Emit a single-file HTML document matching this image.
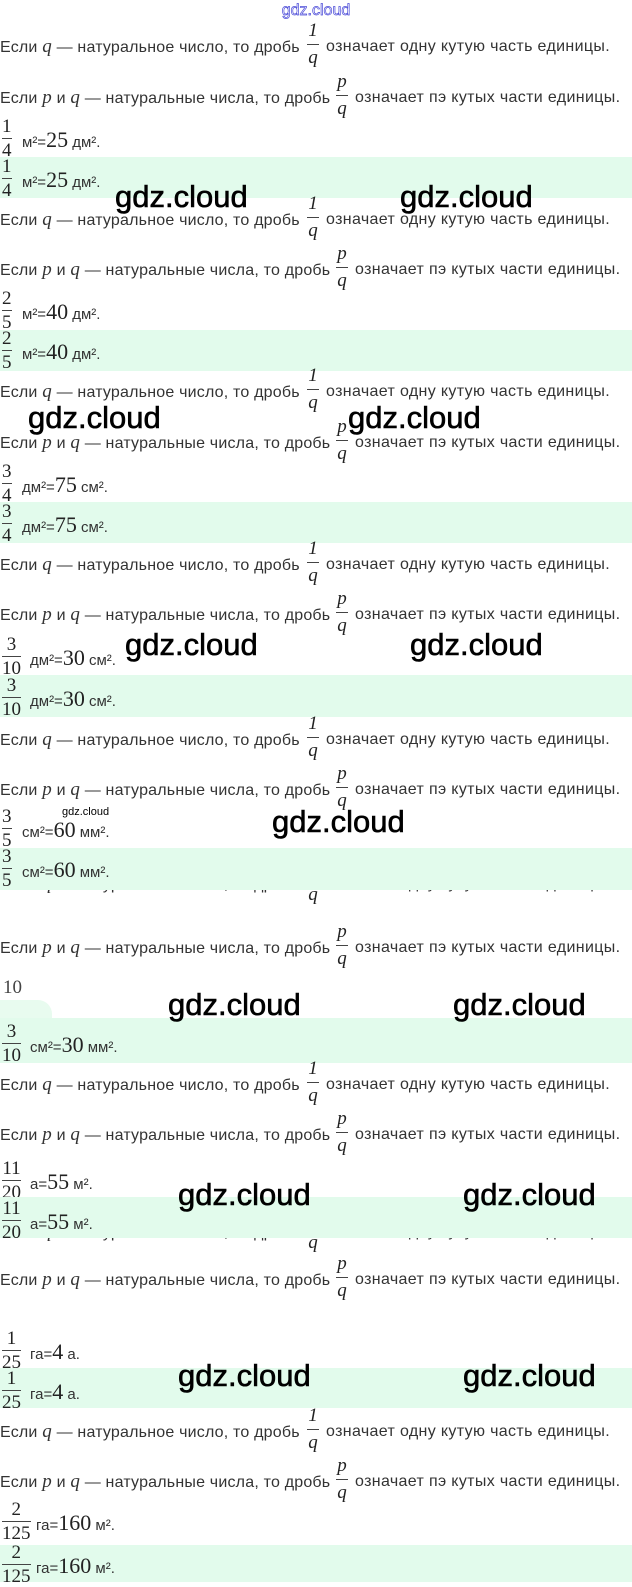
<!DOCTYPE html>
<html><head><meta charset="utf-8">
<style>
*{margin:0;padding:0;box-sizing:border-box}
body{width:632px;height:1582px;position:relative;overflow:hidden;background:#fff;font-family:"Liberation Sans",sans-serif;color:#333}
.band{position:absolute;left:0;width:632px;background:#e2fbec}
.t{position:absolute;left:0;width:632px;height:0;white-space:nowrap;font-size:16px;letter-spacing:0.35px;line-height:18px}
.t span{position:absolute;top:-9px}
.t span.l1,.t span.l2{left:0;letter-spacing:0.2px}
.t em{font-family:"Liberation Serif",serif;font-size:19px}
.fr{position:absolute;display:flex;flex-direction:column;align-items:center;font-family:"Liberation Serif",serif;font-style:italic;font-size:19px;line-height:18px;color:#222;transform:translateX(-50%);letter-spacing:0}
.fr i{display:block;border-top:1px solid #444;width:12px;margin:4px 0}
.a{position:absolute;left:0;height:0;white-space:nowrap}
.af{position:absolute;display:flex;flex-direction:column;align-items:center;font-family:"Liberation Serif",serif;font-size:19px;line-height:17px;color:#222;top:-22px}
.af i{display:block;border-top:1px solid #444;width:100%;margin:3px 0}
.at{position:absolute;top:-10px;font-size:15px;line-height:20px;color:#333}
.at b{font-family:"Liberation Serif",serif;font-weight:normal;font-size:22px;color:#222}
.wm{position:absolute;font-family:"Liberation Sans",sans-serif;font-size:31px;line-height:36px;color:#000;transform:translateY(-50%);-webkit-text-stroke:0.6px #000}
</style></head><body>

<div style="position:absolute;left:0;width:632px;top:2px;text-align:center;font-size:16px;color:#fff;-webkit-text-stroke:0.7px #4b4bd8">gdz.cloud</div>

<div class="band" style="top:157px;height:41px"></div>
<div class="band" style="top:330px;height:41px"></div>
<div class="band" style="top:502px;height:41px"></div>
<div class="band" style="top:675px;height:42px"></div>
<div class="band" style="top:848px;height:42px;z-index:2"></div>
<div class="band" style="top:1000px;height:30px;width:52px;border-top-right-radius:14px;background:#e8fbef"></div>
<div class="band" style="top:1018px;height:45px"></div>
<div class="band" style="top:1197px;height:41px;z-index:2"></div>
<div class="band" style="top:1368px;height:40px"></div>
<div class="band" style="top:1545px;height:37px"></div>

<!-- S1 -->
<div class="t" style="top:47px"><span class="l1">Если <em>q</em> — натуральное число, то дробь</span><div class="fr" style="left:313px;top:-25px">1<i></i>q</div><span style="left:326px">означает одну кутую часть единицы.</span></div>
<div class="t" style="top:98px"><span class="l2">Если <em>p</em> и <em>q</em> — натуральные числа, то дробь</span><div class="fr" style="left:342px;top:-25px">p<i></i>q</div><span style="left:355px">означает пэ кутых части единицы.</span></div>
<div class="a" style="top:140px"><div class="af" style="left:2px">1<i></i>4</div><div class="at" style="left:22px">м²=<b>25</b> дм².</div></div>
<div class="a" style="top:180px"><div class="af" style="left:2px">1<i></i>4</div><div class="at" style="left:22px">м²=<b>25</b> дм².</div></div>

<!-- S2 -->
<div class="t" style="top:220px"><span class="l1">Если <em>q</em> — натуральное число, то дробь</span><div class="fr" style="left:313px;top:-25px">1<i></i>q</div><span style="left:326px">означает одну кутую часть единицы.</span></div>
<div class="t" style="top:270px"><span class="l2">Если <em>p</em> и <em>q</em> — натуральные числа, то дробь</span><div class="fr" style="left:342px;top:-25px">p<i></i>q</div><span style="left:355px">означает пэ кутых части единицы.</span></div>
<div class="a" style="top:312px"><div class="af" style="left:2px">2<i></i>5</div><div class="at" style="left:22px">м²=<b>40</b> дм².</div></div>
<div class="a" style="top:352px"><div class="af" style="left:2px">2<i></i>5</div><div class="at" style="left:22px">м²=<b>40</b> дм².</div></div>

<!-- S3 -->
<div class="t" style="top:392px"><span class="l1">Если <em>q</em> — натуральное число, то дробь</span><div class="fr" style="left:313px;top:-25px">1<i></i>q</div><span style="left:326px">означает одну кутую часть единицы.</span></div>
<div class="t" style="top:443px"><span class="l2">Если <em>p</em> и <em>q</em> — натуральные числа, то дробь</span><div class="fr" style="left:342px;top:-25px">p<i></i>q</div><span style="left:355px">означает пэ кутых части единицы.</span></div>
<div class="a" style="top:485px"><div class="af" style="left:2px">3<i></i>4</div><div class="at" style="left:22px">дм²=<b>75</b> см².</div></div>
<div class="a" style="top:525px"><div class="af" style="left:2px">3<i></i>4</div><div class="at" style="left:22px">дм²=<b>75</b> см².</div></div>

<!-- S4 -->
<div class="t" style="top:565px"><span class="l1">Если <em>q</em> — натуральное число, то дробь</span><div class="fr" style="left:313px;top:-25px">1<i></i>q</div><span style="left:326px">означает одну кутую часть единицы.</span></div>
<div class="t" style="top:615px"><span class="l2">Если <em>p</em> и <em>q</em> — натуральные числа, то дробь</span><div class="fr" style="left:342px;top:-25px">p<i></i>q</div><span style="left:355px">означает пэ кутых части единицы.</span></div>
<div class="a" style="top:658px"><div class="af" style="left:2px">3<i></i>10</div><div class="at" style="left:30px">дм²=<b>30</b> см².</div></div>
<div class="a" style="top:699px"><div class="af" style="left:2px">3<i></i>10</div><div class="at" style="left:30px">дм²=<b>30</b> см².</div></div>

<!-- S5 -->
<div class="t" style="top:740px"><span class="l1">Если <em>q</em> — натуральное число, то дробь</span><div class="fr" style="left:313px;top:-25px">1<i></i>q</div><span style="left:326px">означает одну кутую часть единицы.</span></div>
<div class="t" style="top:790px"><span class="l2">Если <em>p</em> и <em>q</em> — натуральные числа, то дробь</span><div class="fr" style="left:342px;top:-25px">p<i></i>q</div><span style="left:355px">означает пэ кутых части единицы.</span></div>
<div class="a" style="top:830px"><div class="af" style="left:2px">3<i></i>5</div><div class="at" style="left:22px">см²=<b>60</b> мм².</div></div>
<div class="a" style="top:870px;z-index:3"><div class="af" style="left:2px">3<i></i>5</div><div class="at" style="left:22px">см²=<b>60</b> мм².</div></div>

<!-- S6 -->
<div class="t" style="top:884px"><span class="l1">Если <em>q</em> — натуральное число, то дробь</span><div class="fr" style="left:313px;top:-25px">1<i></i>q</div><span style="left:326px">означает одну кутую часть единицы.</span></div>
<div class="t" style="top:948px"><span class="l2">Если <em>p</em> и <em>q</em> — натуральные числа, то дробь</span><div class="fr" style="left:342px;top:-25px">p<i></i>q</div><span style="left:355px">означает пэ кутых части единицы.</span></div>
<div style="position:absolute;left:3px;top:978px;font-family:'Liberation Serif',serif;font-size:19px;line-height:20px;color:#444">10</div>
<div class="a" style="top:1045px"><div class="af" style="left:2px">3<i></i>10</div><div class="at" style="left:30px">см²=<b>30</b> мм².</div></div>

<!-- S7 -->
<div class="t" style="top:1085px"><span class="l1">Если <em>q</em> — натуральное число, то дробь</span><div class="fr" style="left:313px;top:-25px">1<i></i>q</div><span style="left:326px">означает одну кутую часть единицы.</span></div>
<div class="t" style="top:1135px"><span class="l2">Если <em>p</em> и <em>q</em> — натуральные числа, то дробь</span><div class="fr" style="left:342px;top:-25px">p<i></i>q</div><span style="left:355px">означает пэ кутых части единицы.</span></div>
<div class="a" style="top:1182px"><div class="af" style="left:2px">11<i></i>20</div><div class="at" style="left:30px">а=<b>55</b> м².</div></div>
<div class="a" style="top:1222px;z-index:3"><div class="af" style="left:2px">11<i></i>20</div><div class="at" style="left:30px">а=<b>55</b> м².</div></div>

<!-- S8 -->
<div class="t" style="top:1232px"><span class="l1">Если <em>q</em> — натуральное число, то дробь</span><div class="fr" style="left:313px;top:-25px">1<i></i>q</div><span style="left:326px">означает одну кутую часть единицы.</span></div>
<div class="t" style="top:1280px"><span class="l2">Если <em>p</em> и <em>q</em> — натуральные числа, то дробь</span><div class="fr" style="left:342px;top:-25px">p<i></i>q</div><span style="left:355px">означает пэ кутых части единицы.</span></div>
<div class="a" style="top:1352px"><div class="af" style="left:2px">1<i></i>25</div><div class="at" style="left:30px">га=<b>4</b> а.</div></div>
<div class="a" style="top:1392px"><div class="af" style="left:2px">1<i></i>25</div><div class="at" style="left:30px">га=<b>4</b> а.</div></div>

<!-- S9 -->
<div class="t" style="top:1432px"><span class="l1">Если <em>q</em> — натуральное число, то дробь</span><div class="fr" style="left:313px;top:-25px">1<i></i>q</div><span style="left:326px">означает одну кутую часть единицы.</span></div>
<div class="t" style="top:1482px"><span class="l2">Если <em>p</em> и <em>q</em> — натуральные числа, то дробь</span><div class="fr" style="left:342px;top:-25px">p<i></i>q</div><span style="left:355px">означает пэ кутых части единицы.</span></div>
<div class="a" style="top:1523px"><div class="af" style="left:2px">2<i></i>125</div><div class="at" style="left:36px">га=<b>160</b> м².</div></div>
<div class="a" style="top:1566px"><div class="af" style="left:2px">2<i></i>125</div><div class="at" style="left:36px">га=<b>160</b> м².</div></div>

<div class="wm" style="left:115px;top:197px;z-index:5">gdz.cloud</div>
<div class="wm" style="left:400px;top:197px;z-index:5">gdz.cloud</div>
<div class="wm" style="left:28px;top:418px;z-index:5">gdz.cloud</div>
<div class="wm" style="left:348px;top:418px;z-index:5">gdz.cloud</div>
<div class="wm" style="left:125px;top:645px;z-index:5">gdz.cloud</div>
<div class="wm" style="left:410px;top:645px;z-index:5">gdz.cloud</div>
<div class="wm" style="left:272px;top:822px;z-index:5">gdz.cloud</div>
<div style="position:absolute;left:62px;top:805px;font-size:11px;line-height:14px;color:#000;z-index:5">gdz.cloud</div>
<div class="wm" style="left:168px;top:1005px;z-index:5">gdz.cloud</div>
<div class="wm" style="left:453px;top:1005px;z-index:5">gdz.cloud</div>
<div class="wm" style="left:178px;top:1195px;z-index:5">gdz.cloud</div>
<div class="wm" style="left:463px;top:1195px;z-index:5">gdz.cloud</div>
<div class="wm" style="left:178px;top:1376px;z-index:5">gdz.cloud</div>
<div class="wm" style="left:463px;top:1376px;z-index:5">gdz.cloud</div>

</body></html>
